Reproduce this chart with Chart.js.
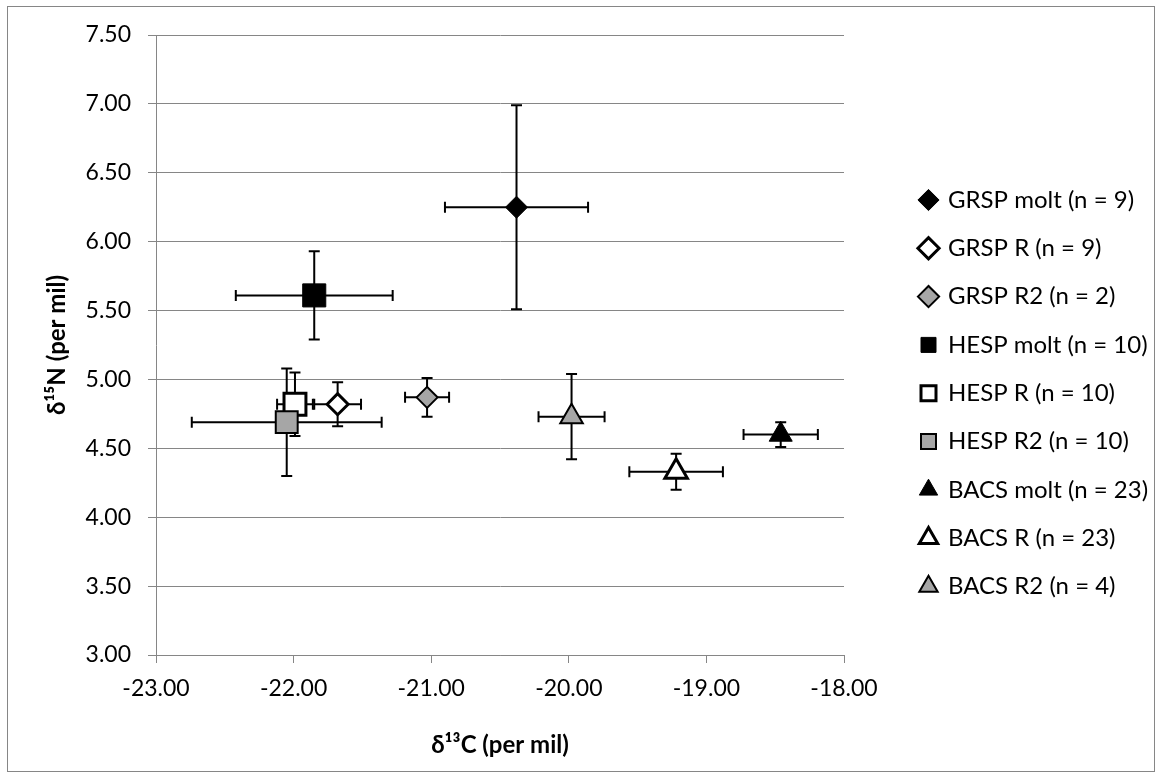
<!DOCTYPE html>
<html>
<head>
<meta charset="utf-8">
<script src="https://cdn.jsdelivr.net/npm/chart.js@4/dist/chart.umd.min.js"></script>
<style>
  html, body { margin: 0; padding: 0; background: #fff; }
  #wrap { position: relative; width: 1161px; height: 778px; }
  #frame {
    position: absolute; left: 7px; top: 6px; width: 1146px; height: 764px;
    border: 1px solid #868686; pointer-events: none;
  }
</style>
</head>
<body>
<div id="wrap">
  <canvas id="chart" width="1161" height="778"></canvas>
  <div id="frame"></div>
</div>
<script>
/* ── Data (means ± SD, per mil) ─────────────────────────────── */

const seriesNames = [
  'GRSP molt (n = 9)', 'GRSP R (n = 9)', 'GRSP R2 (n = 2)',
  'HESP molt (n = 10)', 'HESP R (n = 10)', 'HESP R2 (n = 10)',
  'BACS molt (n = 23)', 'BACS R (n = 23)', 'BACS R2 (n = 4)',
];
const carbonMeans   = [-20.38, -21.68, -21.03, -21.85, -21.99, -22.05, -18.46, -19.22, -19.98];
const nitrogenMeans = [  6.25,   4.82,   4.87,   5.61,   4.82,   4.69,   4.60,   4.33,   4.73];
const carbonSD      = [  0.52,   0.17,   0.16,   0.57,   0.13,   0.69,   0.27,   0.34,   0.24];
const nitrogenSD    = [  0.74,   0.16,   0.14,   0.32,   0.23,   0.39,   0.09,   0.13,   0.31];

const xTickValues = [-23, -22, -21, -20, -19, -18];
const yTickValues = [3.0, 3.5, 4.0, 4.5, 5.0, 5.5, 6.0, 6.5, 7.0, 7.5];

// marker look per series
const shapes = ['rectRot', 'rectRot', 'rectRot', 'rect', 'rect', 'rect', 'triangle', 'triangle', 'triangle'];
const fills  = ['#000000', '#ffffff', '#a6a6a6', '#000000', '#ffffff', '#a6a6a6', '#000000', '#ffffff', '#a6a6a6'];
const radii  = [11, 10.5, 10.5, 16.3, 15.5, 15.5, 13.3, 13, 13];
const lineW  = [1, 3, 2, 1, 3, 2, 1, 3, 2];

const GRID  = '#868686';
const FONT  = "Lato, 'Noto Sans', sans-serif";
const LEGEND_SIZE = 24;

/* ── Error bars, drawn under the markers ──────────────────────── */
const errorBars = {
  id: 'errorBars',
  beforeDatasetsDraw(chart) {
    const { ctx, scales: { x, y } } = chart;
    const cap = 5.5;
    ctx.save();
    ctx.strokeStyle = '#000';
    ctx.lineWidth = 2;
    chart.data.datasets.forEach((ds, i) => {
      const cx = x.getPixelForValue(carbonMeans[i]);
      const cy = y.getPixelForValue(nitrogenMeans[i]);
      const x0 = x.getPixelForValue(carbonMeans[i] - carbonSD[i]);
      const x1 = x.getPixelForValue(carbonMeans[i] + carbonSD[i]);
      const y0 = y.getPixelForValue(nitrogenMeans[i] - nitrogenSD[i]);
      const y1 = y.getPixelForValue(nitrogenMeans[i] + nitrogenSD[i]);
      ctx.beginPath();
      ctx.moveTo(x0, cy); ctx.lineTo(x1, cy);
      ctx.moveTo(x0, cy - cap); ctx.lineTo(x0, cy + cap);
      ctx.moveTo(x1, cy - cap); ctx.lineTo(x1, cy + cap);
      ctx.moveTo(cx, y0); ctx.lineTo(cx, y1);
      ctx.moveTo(cx - cap, y0); ctx.lineTo(cx + cap, y0);
      ctx.moveTo(cx - cap, y1); ctx.lineTo(cx + cap, y1);
      ctx.stroke();
    });
    ctx.restore();
  },
};

// put the legend where Excel had it (right of the plot, first row at y≈200)
const legendPlace = {
  id: 'legendPlace',
  afterLayout(chart) {
    const lg = chart.legend;
    if (!lg) return;
    const pad = lg.options.labels.padding;
    lg.left = 921 - pad;
    lg.right = lg.left + 260;
    lg.top = 200 - LEGEND_SIZE / 2 - pad;
    lg.bottom = 778;
  },
};

Chart.defaults.font.family = FONT;
Chart.defaults.color = '#000';

const datasets = seriesNames.map((name, i) => ({
  label: name,
  data: [{ x: carbonMeans[i], y: nitrogenMeans[i] }],
  pointStyle: shapes[i],
  pointRadius: radii[i],
  pointHoverRadius: radii[i],
  backgroundColor: fills[i],
  borderColor: '#000',
  borderWidth: lineW[i],
  order: seriesNames.length - i,   // later series drawn on top
}));

new Chart(document.getElementById('chart'), {
  type: 'scatter',
  data: { datasets },
  plugins: [errorBars, legendPlace],
  options: {
    responsive: false,
    animation: false,
    layout: { padding: { left: 0, top: 35, right: 257, bottom: 0 } },
    plugins: {
      tooltip: { enabled: false },
      legend: {
        position: 'right',
        align: 'start',
        maxWidth: 60,
        labels: {
          usePointStyle: true,
          boxWidth: 15,
          boxHeight: 15,
          padding: 48.3 - LEGEND_SIZE,
          color: '#000',
          font: { size: LEGEND_SIZE, family: FONT },
          sort: (a, b) => a.datasetIndex - b.datasetIndex,
        },
      },
    },
    scales: {
      x: {
        type: 'linear',
        min: -23,
        max: -18,
        afterBuildTicks: s => { s.ticks = xTickValues.map(v => ({ value: v })); },
        afterFit: s => { s.height = 123; },
        ticks: {
          padding: 12,
          font: { size: 23 },
          callback: v => v.toFixed(2),
        },
        grid: { drawOnChartArea: false, drawTicks: true, tickLength: 8, color: GRID },
        border: { color: GRID, width: 1 },
        title: {
          display: true,
          text: 'δ¹³C (per mil)',
          font: { size: 24, weight: 'bold' },
          padding: { top: 4, bottom: 18 },
        },
      },
      y: {
        type: 'linear',
        min: 3,
        max: 7.5,
        afterBuildTicks: s => { s.ticks = yTickValues.map(v => ({ value: v })); },
        afterFit: s => { s.width = 156; },
        ticks: {
          padding: 17,
          font: { size: 23 },
          callback: v => v.toFixed(2),
        },
        grid: { color: GRID, lineWidth: 1, tickLength: 8 },
        border: { color: GRID, width: 1 },
        title: {
          display: true,
          text: 'δ¹⁵N (per mil)',
          font: { size: 24, weight: 'bold' },
          padding: { top: 43, bottom: 4 },
        },
      },
    },
  },
});
</script>
</body>
</html>
